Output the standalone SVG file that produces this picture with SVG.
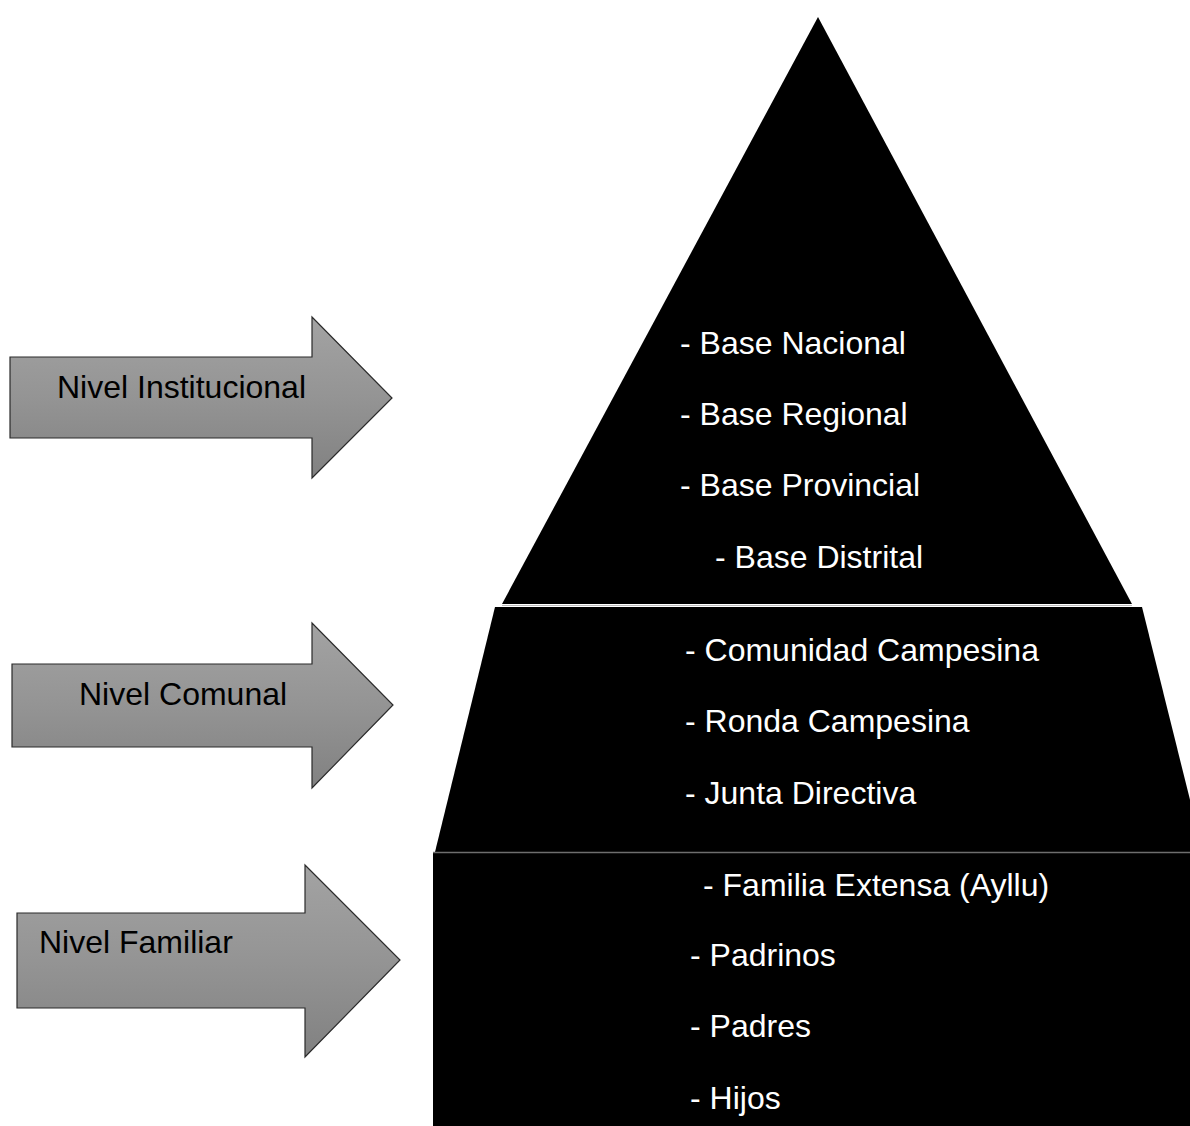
<svg xmlns="http://www.w3.org/2000/svg" width="1190" height="1126" viewBox="0 0 1190 1126">
  <style>
    .arrow { stroke: #2b2b2b; stroke-width: 1.2; fill: url(#arrowFill); }
    .tier { fill: #000000; }
    .lbl { font-family: "Liberation Sans", Arial, sans-serif; font-size: 32px; fill: #000000; }
    .item { font-family: "Liberation Sans", Arial, sans-serif; font-size: 32px; fill: #ffffff; }
  </style>
  <defs>
    <linearGradient id="arrowFill" x1="0" y1="0" x2="0" y2="1">
      <stop offset="0" stop-color="#a3a3a3"/>
      <stop offset="0.5" stop-color="#949494"/>
      <stop offset="1" stop-color="#818181"/>
    </linearGradient>
  </defs>
  <rect width="1190" height="1126" fill="#ffffff"/>

  <!-- pyramid tiers -->
  <g id="tier-institucional">
    <polygon class="tier" points="818,17 1132,604 502,604"/>
    <text class="item" x="680" y="354">- Base Nacional</text>
    <text class="item" x="680" y="425">- Base Regional</text>
    <text class="item" x="680" y="496">- Base Provincial</text>
    <text class="item" x="715" y="568">- Base Distrital</text>
  </g>
  <g id="tier-comunal">
    <polygon class="tier" points="495,607 1142,607 1203,852 435,852"/>
    <text class="item" x="685" y="661">- Comunidad Campesina</text>
    <text class="item" x="685" y="732">- Ronda Campesina</text>
    <text class="item" x="685" y="804">- Junta Directiva</text>
  </g>
  <g id="tier-familiar">
    <rect class="tier" x="433" y="853" width="770" height="280"/>
    <text class="item" x="703" y="896">- Familia Extensa (Ayllu)</text>
    <text class="item" x="690" y="966">- Padrinos</text>
    <text class="item" x="690" y="1037">- Padres</text>
    <text class="item" x="690" y="1109">- Hijos</text>
  </g>
  <!-- thin separators between tiers -->
  <line x1="502" y1="605.5" x2="1132" y2="605.5" stroke="#bdbdbd" stroke-width="1"/>
  <line x1="433" y1="852.5" x2="1190" y2="852.5" stroke="#6e6e6e" stroke-width="1.5"/>

  <!-- level arrows -->
  <g id="arrow-institucional">
    <polygon class="arrow" points="10,357 312,357 312,317 392,398 312,478 312,438 10,438"/>
    <text class="lbl" x="57" y="398">Nivel Institucional</text>
  </g>
  <g id="arrow-comunal">
    <polygon class="arrow" points="12,664 312,664 312,623 393,705 312,788 312,747 12,747"/>
    <text class="lbl" x="79" y="705">Nivel Comunal</text>
  </g>
  <g id="arrow-familiar">
    <polygon class="arrow" points="17,913 305,913 305,865 400,960 305,1057 305,1008 17,1008"/>
    <text class="lbl" x="39" y="953">Nivel Familiar</text>
  </g>

  <g id="connectors"/>
</svg>
